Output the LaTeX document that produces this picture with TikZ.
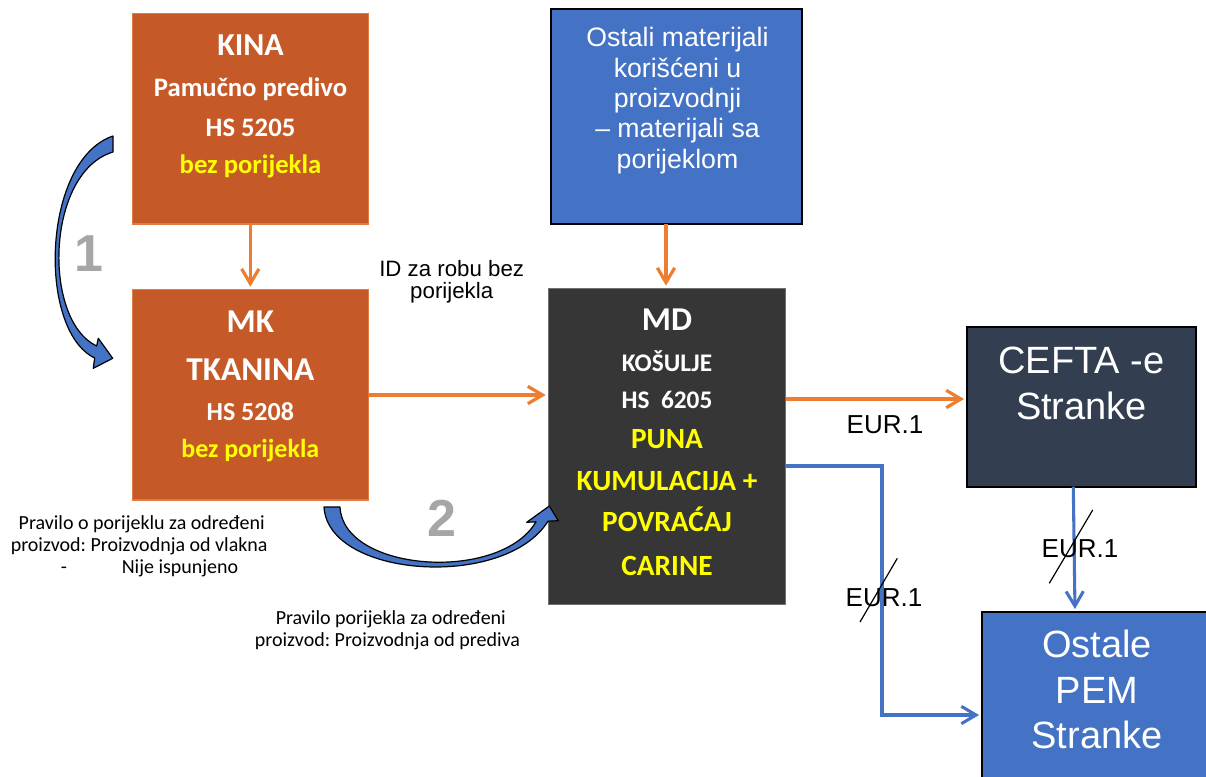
\documentclass[tikz,border=0pt]{standalone}
\usepackage{fontspec}
\setmainfont{Liberation Sans}
\newfontfamily\calib{Carlito}
\usetikzlibrary{arrows.meta}
\frenchspacing
\definecolor{boxorange}{HTML}{C55A28}
\definecolor{edgeorange}{HTML}{E07B45}
\definecolor{lineorange}{HTML}{ED7D31}
\definecolor{pblue}{HTML}{4472C4}
\definecolor{mddark}{HTML}{363636}
\definecolor{mdedge}{HTML}{707070}
\definecolor{ceftafill}{HTML}{333F50}
\definecolor{numgray}{HTML}{A6A6A6}
\definecolor{txtyellow}{HTML}{FFFF00}
\newcommand\fsz[1]{\fontsize{#1}{#1}\selectfont}
\tikzset{
  box/.style={draw, inner sep=0pt, outer sep=0pt, anchor=north west},
  tl/.style={anchor=base, inner sep=0pt, outer sep=0pt},
  calbold/.style={tl, font=\calib\bfseries\fsz{#1}},
  arialtxt/.style={tl, font=\fsz{#1}},
  captxt/.style={tl, font=\calib\frenchspacing\fsz{15pt}},
  oarrow/.style={draw=lineorange, line width=2.4pt, shorten >=2pt, -{Straight Barb[length=11pt,width=13pt]}},
  barrow/.style={draw=pblue, line width=2.3pt, shorten >=2pt, -{Straight Barb[length=11pt,width=13pt]}},
  curvearrow/.style={fill=pblue, draw=black, line width=0.9pt, line join=round},
  strike/.style={draw=black, line width=0.9pt}
}
\begin{document}
\begin{tikzpicture}[x=0.75pt, y=-0.75pt]
\useasboundingbox (0,0) rectangle (1206,776);
\fill[white] (0,0) rectangle (1206,776);

% boxes
\node[box, fill=boxorange, draw=edgeorange, line width=0.8pt, minimum width=177pt, minimum height=158pt] (kina) at (132.3,13.3) {};
\node[box, fill=boxorange, draw=edgeorange, line width=0.8pt, minimum width=177pt, minimum height=158pt] (mk) at (132.3,289.3) {};
\node[box, fill=pblue, draw=black, line width=1.3pt, minimum width=188.25pt, minimum height=161.5pt] (ostali) at (550.7,9) {};
\node[box, fill=mddark, draw=mdedge, line width=0.8pt, minimum width=178pt, minimum height=236.8pt] (md) at (548.3,288.3) {};
\node[box, fill=ceftafill, draw=black, line width=1.3pt, minimum width=172pt, minimum height=120pt] (cefta) at (966.7,326.7) {};
\node[box, fill=pblue, draw=black, line width=1.3pt, minimum width=174pt, minimum height=135pt] (pem) at (981.7,611.7) {};

% KINA text
\node[calbold=24pt, text=white] (kina-1) at (250.5,55) {KINA};
\node[calbold=20pt, text=white] (kina-2) at (250.5,96.7) {Pamučno predivo};
\node[calbold=20pt, text=white] (kina-3) at (250.5,136) {HS 5205};
\node[calbold=20pt, text=txtyellow] (kina-4) at (250.5,173.3) {bez porijekla};

% MK text
\node[calbold=25pt, text=white] (mk-1) at (250.3,332.7) {MK};
\node[calbold=25pt, text=white] (mk-2) at (250.3,380.7) {TKANINA};
\node[calbold=19.5pt, text=white] (mk-3) at (250.3,420.7) {HS 5208};
\node[calbold=19.5pt, text=txtyellow] (mk-4) at (250.3,457.3) {bez porijekla};

% MD text
\node[calbold=25pt, text=white] (md-1) at (667,330) {MD};
\node[calbold=19pt, text=white] (md-2) at (667,371.7) {KOŠULJE};
\node[calbold=19pt, text=white] (md-3) at (667,408.3) {HS\ \ 6205};
\node[calbold=22pt, text=txtyellow] (md-4) at (667,448.3) {PUNA};
\node[calbold=22pt, text=txtyellow] (md-5) at (667,490) {KUMULACIJA +};
\node[calbold=22pt, text=txtyellow] (md-6) at (667,531.7) {POVRAĆAJ};
\node[calbold=22pt, text=txtyellow] (md-7) at (667,575) {CARINE};

% Ostali text
\node[arialtxt=20pt, text=white] (ost-1) at (677.5,46.7) {Ostali materijali};
\node[arialtxt=20pt, text=white] (ost-2) at (677.5,77.1) {korišćeni u};
\node[arialtxt=20pt, text=white] (ost-3) at (677.5,107.5) {proizvodnji};
\node[arialtxt=20pt, text=white] (ost-4) at (677.5,137.9) {– materijali sa};
\node[arialtxt=20pt, text=white] (ost-5) at (677.5,168.3) {porijeklom};

% CEFTA text
\node[arialtxt=28.5pt, text=white] (cefta-1) at (1081.5,373.3) {CEFTA -e};
\node[arialtxt=28.5pt, text=white] (cefta-2) at (1081.5,419.3) {Stranke};

% PEM text
\node[arialtxt=28.5pt, text=white] (pem-1) at (1097,657.3) {Ostale};
\node[arialtxt=28.5pt, text=white] (pem-2) at (1097,703.3) {PEM};
\node[arialtxt=28.5pt, text=white] (pem-3) at (1097,748.3) {Stranke};

% connectors
\draw[oarrow] (kina.south) -- (mk.north);
\draw[oarrow] (ostali.south -| 666,0) -- (md.north -| 666,0);
\draw[oarrow] (mk.east |- 0,395) -- (md.west |- 0,395);
\draw[oarrow] (md.east |- 0,399) -- (cefta.west |- 0,399);
\coordinate (bendA) at (882,466);
\coordinate (bendB) at (882,715);
\draw[barrow] (md.east |- bendA) -- (bendA) -- (bendB) -- (pem.west |- bendB);
\draw[barrow] (cefta.south -| 1073.3,0) -- (pem.north -| 1075,0);

% labels
\node[arialtxt=16.7pt] (id-1) at (451.7,276) {ID za robu bez};
\node[arialtxt=16.7pt] (id-2) at (451.7,298.3) {porijekla};
\node[arialtxt=19.5pt] (eur-a) at (885,433.3) {EUR.1};
\node[arialtxt=19.5pt] (eur-b) at (884,606.7) {EUR.1};
\node[arialtxt=19.5pt] (eur-c) at (1080,557.3) {EUR.1};
\draw[strike] (860,622) -- (897.3,558.3);
\draw[strike] (1049.3,583.3) -- (1092.7,510);

% numbers
\node[tl, font=\bfseries\fsz{39pt}, text=numgray] (num1) at (89.3,271.7) {1};
\node[tl, font=\bfseries\fsz{39pt}, text=numgray] (num2) at (441.7,536.7) {2};

% captions
\node[captxt] (capl-1) at (141.7,529) {Pravilo o porijeklu za određeni};
\node[captxt] (capl-2) at (139.2,551.7) {proizvod: Proizvodnja od vlakna};
\node[captxt] (capl-3a) at (64,573.3) {-};
\node[captxt] (capl-3b) at (180,573.3) {Nije ispunjeno};
\node[captxt] (capb-1) at (390.8,624) {Pravilo porijekla za određeni};
\node[captxt] (capb-2) at (387.5,646.7) {proizvod: Proizvodnja od prediva};

% curved block arrows
\draw[curvearrow] (113,136) .. controls (42,160) and (37,330) .. (94.65,358)
  -- (93.3,368.3) -- (112.7,358.3) -- (98.3,338.3) -- (96.65,346)
  .. controls (42,320) and (46,172) .. (113,152) -- cycle;
\draw[curvearrow] (340,507) -- (324,507) .. controls (328,578) and (505,590) .. (548,521.2)
  -- (558.3,520.7) -- (549.3,506) -- (526.7,522.3) -- (536,521.8)
  .. controls (500,583) and (343,572) .. (340,507) -- cycle;
\end{tikzpicture}
\end{document}
